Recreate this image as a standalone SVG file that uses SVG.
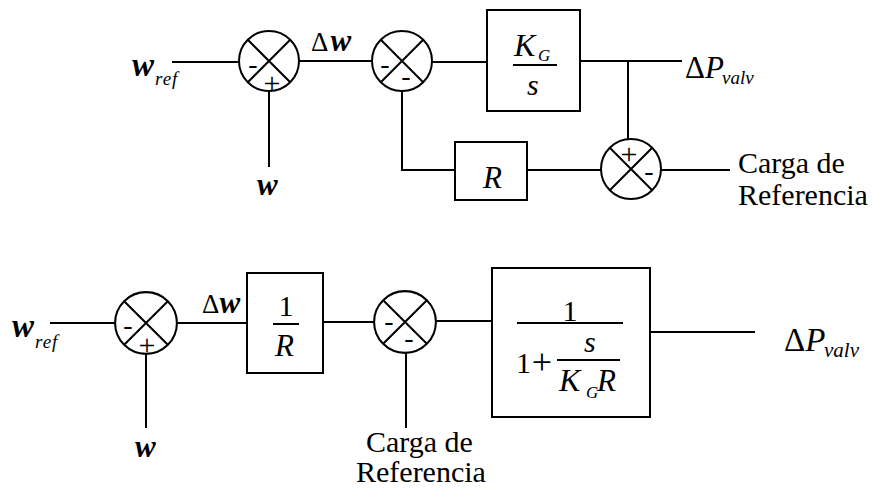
<svg xmlns="http://www.w3.org/2000/svg" width="875" height="495" viewBox="0 0 875 495">
<style>
.ln{stroke:#000;stroke-width:2;fill:none}
.sum{stroke:#000;stroke-width:2;fill:#fff}
.blk{stroke:#000;stroke-width:2;fill:#fff}
.t{font-family:"Liberation Serif","Times New Roman",serif;fill:#000}
.i{font-style:italic}
.bi{font-style:italic;font-weight:bold}
.sg{font-family:"Liberation Serif","Times New Roman",serif;fill:#000;text-anchor:middle}
</style>
<defs>
<g id="x"><circle class="sum" cx="0" cy="0" r="30"/><path class="ln" d="M-21.2,-21.2L21.2,21.2M21.2,-21.2L-21.2,21.2"/></g>
</defs>
<rect width="875" height="495" fill="#fff"/>

<g id="connectors">
<path class="ln" d="M172,62H239"/>
<path class="ln" d="M269,91V167"/>
<path class="ln" d="M299,61H372"/>
<path class="ln" d="M432,62H487"/>
<path class="ln" d="M580,61H682"/>
<path class="ln" d="M628,61V139"/>
<path class="ln" d="M402,91V170H455"/>
<path class="ln" d="M527,170H601"/>
<path class="ln" d="M661,170H730"/>
<path class="ln" d="M50,323H115"/>
<path class="ln" d="M146,354V428"/>
<path class="ln" d="M177,323H247"/>
<path class="ln" d="M323,322H374"/>
<path class="ln" d="M406,353V428"/>
<path class="ln" d="M436,321H492"/>
<path class="ln" d="M648,332H755"/>
</g>

<g id="sum1"><use href="#x" x="269" y="61"/>
<text class="sg" x="253" y="73" font-size="28">-</text>
<text class="sg" x="272" y="93" font-size="30">+</text></g>
<g id="sum2"><use href="#x" x="402" y="61"/>
<text class="sg" x="385" y="73" font-size="28">-</text>
<text class="sg" x="406" y="85" font-size="28">-</text></g>
<g id="sum3"><use href="#x" x="631" y="169"/>
<text class="sg" x="629" y="164" font-size="30">+</text>
<text class="sg" x="649" y="180" font-size="28">-</text></g>
<g id="sum4"><g transform="translate(146,323) scale(1.03)"><use href="#x"/></g>
<text class="sg" x="128" y="334" font-size="28">-</text>
<text class="sg" x="147" y="355" font-size="30">+</text></g>
<g id="sum5"><g transform="translate(405,322) scale(1.03)"><use href="#x"/></g>
<text class="sg" x="389" y="330" font-size="28">-</text>
<text class="sg" x="409" y="347" font-size="28">-</text></g>

<g id="wref1"><text class="t bi" x="132" y="76" font-size="33">w</text><text class="t i" x="155" y="85" font-size="19" letter-spacing="1">ref</text></g>
<g id="w1"><text class="t bi" x="257" y="195" font-size="31">w</text></g>
<g id="dw1"><text class="t" x="311" y="51" font-size="27">Δ<tspan class="bi" font-size="31" dx="2">w</tspan></text></g>

<g id="kgs">
<rect class="blk" x="487" y="10" width="93" height="101"/>
<text class="t i" x="514" y="56" font-size="32">K</text>
<text class="t i" x="538" y="61" font-size="17">G</text>
<path class="ln" d="M513,65H557"/>
<text class="t i" x="527" y="95" font-size="30">s</text>
</g>
<g id="rblk"><rect class="blk" x="455" y="142" width="72" height="58"/>
<text class="t i" x="483" y="188" font-size="31">R</text></g>
<g id="dp1"><text class="t" x="685" y="78" font-size="31">Δ<tspan class="i">P</tspan></text><text class="t i" x="722" y="84" font-size="19">valv</text></g>
<g id="carga1"><text class="t" x="738" y="173" font-size="30">Carga de</text><text class="t" x="738" y="205" font-size="30">Referencia</text></g>

<g id="wref2"><text class="t bi" x="12" y="337" font-size="33">w</text><text class="t i" x="35" y="348" font-size="19" letter-spacing="1">ref</text></g>
<g id="w2"><text class="t bi" x="135" y="457" font-size="31">w</text></g>
<g id="dw2"><text class="t" x="202" y="313" font-size="27">Δ<tspan class="bi" font-size="31">w</tspan></text></g>
<g id="invr"><rect class="blk" x="247" y="273" width="76" height="100"/>
<text class="t" x="286" y="316" font-size="30" text-anchor="middle">1</text>
<path class="ln" d="M273,324H299"/>
<text class="t i" x="275" y="356" font-size="31">R</text></g>
<g id="carga2"><text class="t" x="366" y="452" font-size="30">Carga de</text><text class="t" x="356" y="482" font-size="30">Referencia</text></g>
<g id="tf"><rect class="blk" x="492" y="268" width="158" height="149"/>
<text class="t" x="570" y="321" font-size="30" text-anchor="middle">1</text>
<path class="ln" d="M517,323H623"/>
<text class="t" x="516" y="373" font-size="30">1</text>
<text class="t" x="542" y="374" font-size="36" text-anchor="middle">+</text>
<text class="t i" x="584" y="352" font-size="30">s</text>
<path class="ln" d="M557,360H620"/>
<text class="t i" x="559" y="391" font-size="32">K</text>
<text class="t i" x="586" y="398" font-size="17">G</text>
<text class="t i" x="597" y="391" font-size="31">R</text></g>
<g id="dp2"><text class="t" x="784" y="351" font-size="33">Δ<tspan class="i">P</tspan></text><text class="t i" x="824" y="357" font-size="21">valv</text></g>
</svg>
